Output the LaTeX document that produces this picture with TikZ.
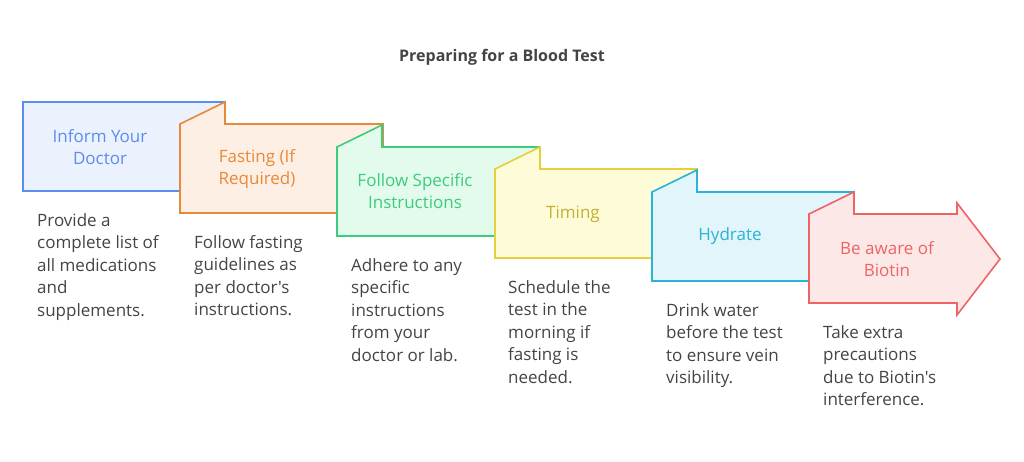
\documentclass[tikz,border=0pt]{standalone}
\usepackage{fontspec}
\setmainfont{Open Sans}[Ligatures=TeXOff]
\definecolor{cblue}{HTML}{5B8DEF}\definecolor{fblue}{HTML}{EBF1FD}
\definecolor{corange}{HTML}{E8893A}\definecolor{forange}{HTML}{FDEFE3}
\definecolor{cgreen}{HTML}{3DCB7D}\definecolor{fgreen}{HTML}{E2FBEC}
\definecolor{cyellow}{HTML}{E5CF3C}\definecolor{fyellow}{HTML}{FEFBD9}
\definecolor{ccyan}{HTML}{29B3D6}\definecolor{fcyan}{HTML}{E2F5FB}
\definecolor{cred}{HTML}{EE6464}\definecolor{fred}{HTML}{FDE8E8}
\definecolor{ctext}{HTML}{444444}
\tikzset{
  boxline/.style={line width=1.6pt,line join=miter},
  label/.style={font=\fontsize{17}{22}\selectfont,align=center},
  desc/.style={font=\fontsize{17}{22.5}\selectfont,align=left,anchor=north west,inner sep=0pt,text=ctext},
}
\begin{document}
\begin{tikzpicture}[x=1pt,y=-1pt]
\useasboundingbox (0,0) rectangle (1024,462);
% title
\node[font=\bfseries\fontsize{16}{20}\selectfont,text=ctext] (title) at (502,57) {Preparing for a Blood Test};
% boxes
\draw[boxline,cblue,fill=fblue] (23,102) rectangle (225,191);
\draw[boxline,corange,fill=forange] (180,124) -- (225,102) -- (225,124) -- (383,124) -- (383,213) -- (180,213) -- cycle;
\draw[boxline,cgreen,fill=fgreen] (337,147) -- (382,125) -- (382,147) -- (540,147) -- (540,236) -- (337,236) -- cycle;
\draw[boxline,cyellow,fill=fyellow] (495,169) -- (540,147) -- (540,169) -- (697,169) -- (697,258) -- (495,258) -- cycle;
\draw[boxline,ccyan,fill=fcyan] (652,192) -- (697,170) -- (697,192) -- (854,192) -- (854,281) -- (652,281) -- cycle;
\draw[boxline,cred,fill=fred] (809,214) -- (854,192) -- (854,214) -- (957,214) -- (957,203) -- (1000,259) -- (957,315) -- (957,303) -- (809,303) -- cycle;
% box labels
\node[label,text=cblue] (inform) at (100,147) {Inform Your\\Doctor};
\node[label,text=corange] (fasting) at (257,169) {Fasting (If\\Required)};
\node[label,text=cgreen] (follow) at (415,191) {Follow Specific\\Instructions};
\node[label,text=cyellow!85!black] (timing) at (573,214) {Timing};
\node[label,text=ccyan] (hydrate) at (730,236) {Hydrate};
\node[label,text=cred] (biotin) at (887,259) {Be aware of\\Biotin};
% descriptions
\node[desc] (d1) at (37,213) {Provide a\\complete list of\\all medications\\and\\supplements.};
\node[desc] (d2) at (194,235) {Follow fasting\\guidelines as\\per doctor's\\instructions.};
\node[desc] (d3) at (351,258) {Adhere to any\\specific\\instructions\\from your\\doctor or lab.};
\node[desc] (d4) at (508,280) {Schedule the\\test in the\\morning if\\fasting is\\needed.};
\node[desc] (d5) at (666,303) {Drink water\\before the test\\to ensure vein\\visibility.};
\node[desc] (d6) at (823,325) {Take extra\\precautions\\due to Biotin's\\interference.};
\end{tikzpicture}
\end{document}
